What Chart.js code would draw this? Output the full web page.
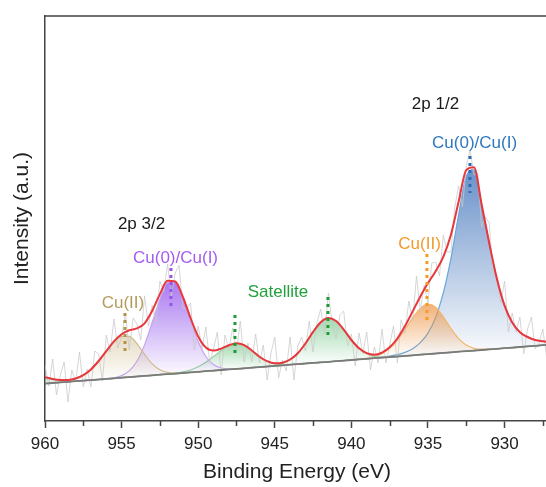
<!DOCTYPE html>
<html>
<head>
<meta charset="utf-8">
<script src="https://cdn.jsdelivr.net/npm/chart.js@4/dist/chart.umd.min.js"></script>
<style>
html, body { margin: 0; padding: 0; background: #fff; overflow: hidden; }
#wrap { width: 552px; height: 487px; }
</style>
</head>
<body>
<div id="wrap"><canvas id="xps" width="552" height="487"></canvas></div>
<script>
// fitted curves, sampled every 0.5 eV
const fitE = [960, 959.5, 959, 958.5, 958, 957.5, 957, 956.5, 956, 955.5,
  955, 954.5, 954, 953.5, 953, 952.5, 952, 951.5, 951, 950.5,
  950, 949.5, 949, 948.5, 948, 947.5, 947, 946.5, 946, 945.5,
  945, 944.5, 944, 943.5, 943, 942.5, 942, 941.5, 941, 940.5,
  940, 939.5, 939, 938.5, 938, 937.5, 937, 936.5, 936, 935.5,
  935, 934.5, 934, 933.5, 933, 932.5, 932, 931.5, 931, 930.5,
  930, 929.5, 929, 928.5, 928, 927.5, 927, 926.5, 926, 925.5, 925];

// background (straight line)
const background = [37.4, 38.0, 38.6, 39.2, 39.8, 40.4, 40.9, 41.5, 42.1, 42.7,
  43.3, 43.9, 44.5, 45.1, 45.7, 46.3, 46.8, 47.4, 48.0, 48.6,
  49.2, 49.8, 50.4, 51.0, 51.6, 52.2, 52.7, 53.3, 53.9, 54.5,
  55.1, 55.7, 56.3, 56.9, 57.5, 58.1, 58.6, 59.2, 59.8, 60.4,
  61.0, 61.6, 62.2, 62.8, 63.4, 64.0, 64.5, 65.1, 65.7, 66.3,
  66.9, 67.5, 68.1, 68.7, 69.3, 69.9, 70.4, 71.0, 71.6, 72.2,
  72.8, 73.4, 74.0, 74.6, 75.2, 75.8, 76.3, 76.9, 77.5, 78.1, 78.7];

// component heights above the background
const satHigh = [6.5, 3.8, 2.0, 0.9, 0.3, 0.1, 0, 0, 0, 0,
  0, 0, 0, 0, 0, 0, 0, 0, 0, 0,
  0, 0, 0, 0, 0, 0, 0, 0, 0, 0,
  0, 0, 0, 0, 0, 0, 0, 0, 0, 0,
  0, 0, 0, 0, 0, 0, 0, 0, 0, 0,
  0, 0, 0, 0, 0, 0, 0, 0, 0, 0,
  0, 0, 0, 0, 0, 0, 0, 0, 0, 0, 0];
const cuII_32 = [0, 0.1, 0.3, 0.9, 2.4, 5.4, 10.7, 18.5, 27.7, 36.3,
  41.4, 40.7, 32.9, 21.6, 11.5, 5.0, 1.8, 0.5, 0.1, 0,
  0, 0, 0, 0, 0, 0, 0, 0, 0, 0,
  0, 0, 0, 0, 0, 0, 0, 0, 0, 0,
  0, 0, 0, 0, 0, 0, 0, 0, 0, 0,
  0, 0, 0, 0, 0, 0, 0, 0, 0, 0,
  0, 0, 0, 0, 0, 0, 0, 0, 0, 0, 0];
const cu0I_32 = [0, 0, 0, 0, 0, 0, 0, 0, 0.1, 0.6,
  2.1, 6.2, 15.2, 31.0, 53.0, 75.6, 91.5, 91.2, 74.8, 52.0,
  30.3, 14.7, 6.0, 2.0, 0.6, 0.1, 0, 0, 0, 0,
  0, 0, 0, 0, 0, 0, 0, 0, 0, 0,
  0, 0, 0, 0, 0, 0, 0, 0, 0, 0,
  0, 0, 0, 0, 0, 0, 0, 0, 0, 0,
  0, 0, 0, 0, 0, 0, 0, 0, 0, 0, 0];
const sat947 = [0, 0, 0, 0, 0, 0, 0, 0, 0, 0,
  0, 0, 0, 0, 0, 0, 0.1, 0.4, 1.1, 2.4,
  5.0, 8.9, 14.0, 19.4, 23.6, 25.4, 23.2, 17.2, 10.4, 5.1,
  2.0, 0.7, 0.2, 0, 0, 0, 0, 0, 0, 0,
  0, 0, 0, 0, 0, 0, 0, 0, 0, 0,
  0, 0, 0, 0, 0, 0, 0, 0, 0, 0,
  0, 0, 0, 0, 0, 0, 0, 0, 0, 0, 0];
const sat941 = [0, 0, 0, 0, 0, 0, 0, 0, 0, 0,
  0, 0, 0, 0, 0, 0, 0, 0, 0, 0,
  0, 0, 0, 0, 0, 0, 0, 0, 0, 0.2,
  0.6, 1.9, 5.0, 10.9, 20.0, 31.0, 40.2, 43.8, 40.2, 31.0,
  20.0, 10.9, 5.0, 1.9, 0.6, 0.2, 0, 0, 0, 0,
  0, 0, 0, 0, 0, 0, 0, 0, 0, 0,
  0, 0, 0, 0, 0, 0, 0, 0, 0, 0, 0];
const cuII_12 = [0, 0, 0, 0, 0, 0, 0, 0, 0, 0,
  0, 0, 0, 0, 0, 0, 0, 0, 0, 0,
  0, 0, 0, 0, 0, 0, 0, 0, 0, 0,
  0, 0, 0, 0, 0, 0, 0, 0, 0, 0,
  0, 0.2, 0.6, 1.6, 4.0, 8.6, 16.2, 26.3, 37.4, 46.3,
  50.0, 46.3, 36.1, 23.6, 13.0, 6.0, 2.3, 0.8, 0.2, 0,
  0, 0, 0, 0, 0, 0, 0, 0, 0, 0, 0];
const cu0I_12 = [0, 0, 0, 0, 0, 0, 0, 0, 0, 0,
  0, 0, 0, 0, 0, 0, 0, 0, 0, 0,
  0, 0, 0, 0, 0, 0, 0, 0, 0, 0,
  0, 0, 0, 0, 0, 0, 0, 0, 0, 0,
  0, 0, 0, 0, 0.4, 0.9, 1.8, 3.5, 6.5, 12.0,
  21.0, 36.0, 60.0, 94.0, 137.0, 175.0, 181.0, 145.0, 106.0, 70.0,
  42.5, 25.0, 14.8, 9.4, 5.8, 4.0, 2.7, 1.8, 1.2, 0.8, 0.5];

// measured spectrum
const rawE = [960, 959.75, 959.5, 959.25, 959, 958.75, 958.5, 958.25, 958, 957.75,
  957.5, 957.25, 957, 956.75, 956.5, 956.25, 956, 955.75, 955.5, 955.25,
  955, 954.75, 954.5, 954.25, 954, 953.75, 953.5, 953.25, 953, 952.75,
  952.5, 952.25, 952, 951.75, 951.5, 951.25, 951, 950.75, 950.5, 950.25,
  950, 949.75, 949.5, 949.25, 949, 948.75, 948.5, 948.25, 948, 947.75,
  947.5, 947.25, 947, 946.75, 946.5, 946.25, 946, 945.75, 945.5, 945.25,
  945, 944.75, 944.5, 944.25, 944, 943.75, 943.5, 943.25, 943, 942.75,
  942.5, 942.25, 942, 941.75, 941.5, 941.25, 941, 940.75, 940.5, 940.25,
  940, 939.75, 939.5, 939.25, 939, 938.75, 938.5, 938.25, 938, 937.75,
  937.5, 937.25, 937, 936.75, 936.5, 936.25, 936, 935.75, 935.5, 935.25,
  935, 934.75, 934.5, 934.25, 934, 933.75, 933.5, 933.25, 933, 932.75,
  932.5, 932.25, 932, 931.75, 931.5, 931.25, 931, 930.75, 930.5, 930.25,
  930, 929.75, 929.5, 929.25, 929, 928.75, 928.5, 928.25, 928, 927.75,
  927.5, 927.25, 927];
const rawI = [56, 35, 62, 26, 46, 59, 19, 51, 39, 69,
  34, 52, 34, 70, 67, 40, 86, 69, 102, 73,
  84, 108, 71, 103, 97, 81, 125, 95, 116, 98,
  140, 129, 157, 124, 148, 156, 113, 112, 118, 71,
  95, 72, 94, 59, 72, 89, 46, 86, 72, 93,
  69, 100, 59, 78, 59, 87, 58, 76, 41, 68,
  84, 43, 61, 50, 84, 41, 75, 84, 70, 100,
  69, 98, 112, 87, 128, 97, 82, 106, 110, 75,
  87, 55, 88, 67, 89, 51, 74, 58, 92, 58,
  76, 95, 58, 101, 88, 120, 100, 145, 110, 136,
  118, 158, 159, 145, 186, 169, 169, 214, 235, 214,
  255, 271, 246, 248, 194, 204, 198, 146, 145, 118,
  140, 89, 108, 89, 104, 67, 92, 104, 72, 78,
  92, 63, 85];

// peak position markers and annotations
const markerE = [932.26, 935.07, 954.78, 951.78, 947.6, 941.53];
const markerTop = [265, 167, 108, 153, 106, 124];
const markerBottom = [228, 100, 66, 111, 64, 84];
const markerColors = ['#2a6cb5', '#f39a2a', '#b39445', '#9b52ea', '#1f9a34', '#1f9a34'];

const labelText = ['2p 1/2', 'Cu(0)/Cu(I)', '2p 3/2', 'Cu(0)/Cu(I)', 'Cu(II)', 'Satellite', 'Cu(II)'];
const labelE = [934.51, 931.96, 953.7, 951.48, 954.91, 944.79, 935.55];
const labelI = [317, 278, 197, 162.5, 118, 129, 177];
const labelColors = ['#1a1a1a', '#2f78bd', '#1a1a1a', '#a45cf0', '#b39b5c', '#22a03c', '#f39a2c'];

const FONT = '"Liberation Sans", Arial, sans-serif';
Chart.defaults.font.family = FONT;

const pts = (xs, ys) => xs.map((e, i) => ({ x: e, y: ys[i] }));

const comps = [
  { h: satHigh, line: '#9ad5a3', rgb: '70,180,95', a: 0.45 },
  { h: cuII_32, line: '#cdbb8e', rgb: '195,170,110', a: 0.4 },
  { h: cu0I_32, line: '#c4a4f3', rgb: '152,94,238', a: 0.82 },
  { h: sat947, line: '#94d49e', rgb: '70,180,95', a: 0.5 },
  { h: sat941, line: '#94d49e', rgb: '70,180,95', a: 0.5 },
  { h: cuII_12, line: '#f4b56c', rgb: '238,150,70', a: 0.75 },
  { h: cu0I_12, line: '#66a7dc', rgb: '64,114,186', a: 0.78 }
];

const envelope = background.map((b, i) => b + comps.reduce((s, c) => s + c.h[i], 0));

const datasets = [];
datasets.push({
  data: pts(fitE, background), borderColor: '#7a7a7a', borderWidth: 1.8,
  pointRadius: 0, fill: false, order: 5
});
comps.forEach(c => {
  const abs = background.map((b, i) => b + c.h[i]);
  let k = 0;
  c.h.forEach((v, i) => { if (v > c.h[k]) k = i; });
  const top = abs[k], bot = background[k];
  datasets.push({
    data: pts(fitE, abs),
    borderColor: c.line, borderWidth: 1.2, pointRadius: 0,
    cubicInterpolationMode: 'monotone', order: 10,
    fill: 0,
    backgroundColor: (ctx) => {
      const ch = ctx.chart;
      if (!ch.chartArea) return 'transparent';
      const ys = ch.scales.y;
      const g = ch.ctx.createLinearGradient(0, ys.getPixelForValue(top), 0, ys.getPixelForValue(bot));
      g.addColorStop(0, 'rgba(' + c.rgb + ',' + c.a + ')');
      g.addColorStop(1, 'rgba(' + c.rgb + ',0.04)');
      return g;
    }
  });
});
datasets.push({
  data: pts(fitE, envelope), borderColor: '#e8373d', borderWidth: 2,
  pointRadius: 0, cubicInterpolationMode: 'monotone', fill: false, order: 2
});
datasets.push({
  data: pts(rawE, rawI), borderColor: 'rgba(200,200,200,0.75)', borderWidth: 1,
  pointRadius: 0, fill: false, order: 7
});
markerE.forEach((e, i) => {
  datasets.push({
    data: [{ x: e, y: markerTop[i] }, { x: e, y: markerBottom[i] }],
    borderColor: markerColors[i], borderWidth: 3, borderDash: [3, 4],
    pointRadius: 0, fill: false, order: 1
  });
});

const decor = {
  id: 'decor',
  afterDraw(chart) {
    const { ctx, chartArea: a, scales: { x, y } } = chart;
    ctx.save();
    ctx.strokeStyle = '#444';
    ctx.lineWidth = 1.5;
    ctx.beginPath();
    ctx.moveTo(a.left, a.top);
    ctx.lineTo(a.right, a.top);
    ctx.lineTo(a.right, a.bottom);
    // minor ticks between labelled ones
    for (let v = 957.5; v > x.min; v -= 5) {
      const px = Math.round(x.getPixelForValue(v)) + 0.5;
      ctx.moveTo(px, a.bottom);
      ctx.lineTo(px, a.bottom + 5);
    }
    ctx.stroke();
    ctx.font = '17px ' + FONT;
    ctx.textAlign = 'center';
    ctx.textBaseline = 'middle';
    labelText.forEach((t, i) => {
      ctx.fillStyle = labelColors[i];
      ctx.fillText(t, x.getPixelForValue(labelE[i]), y.getPixelForValue(labelI[i]));
    });
    ctx.restore();
  }
};

new Chart(document.getElementById('xps'), {
  type: 'line',
  data: { datasets },
  options: {
    responsive: false,
    animation: false,
    layout: { padding: { top: 16, right: 3, left: 0, bottom: 0 } },
    plugins: { legend: { display: false }, tooltip: { enabled: false } },
    scales: {
      x: {
        type: 'linear', reverse: true, min: 927.1, max: 960,
        afterFit: s => { s.height = 66; },
        ticks: { stepSize: 5, includeBounds: false, autoSkip: false, maxRotation: 0,
          padding: 6, color: '#222', font: { size: 17 } },
        grid: { display: true, drawOnChartArea: false, drawTicks: true,
          tickLength: 7, tickColor: '#444', tickWidth: 1.5 },
        border: { display: true, color: '#444', width: 1.5 },
        title: { display: true, text: 'Binding Energy (eV)', color: '#222',
          font: { size: 21 }, padding: { top: 0, bottom: 2 } }
      },
      y: {
        min: 0, max: 405,
        afterFit: s => { s.width = 45; },
        ticks: { display: false },
        grid: { display: false },
        border: { display: true, color: '#444', width: 1.5 },
        title: { display: true, text: 'Intensity (a.u.)', color: '#222',
          font: { size: 21 }, padding: { top: 10, bottom: 0 } }
      }
    }
  },
  plugins: [decor]
});
</script>
</body>
</html>
